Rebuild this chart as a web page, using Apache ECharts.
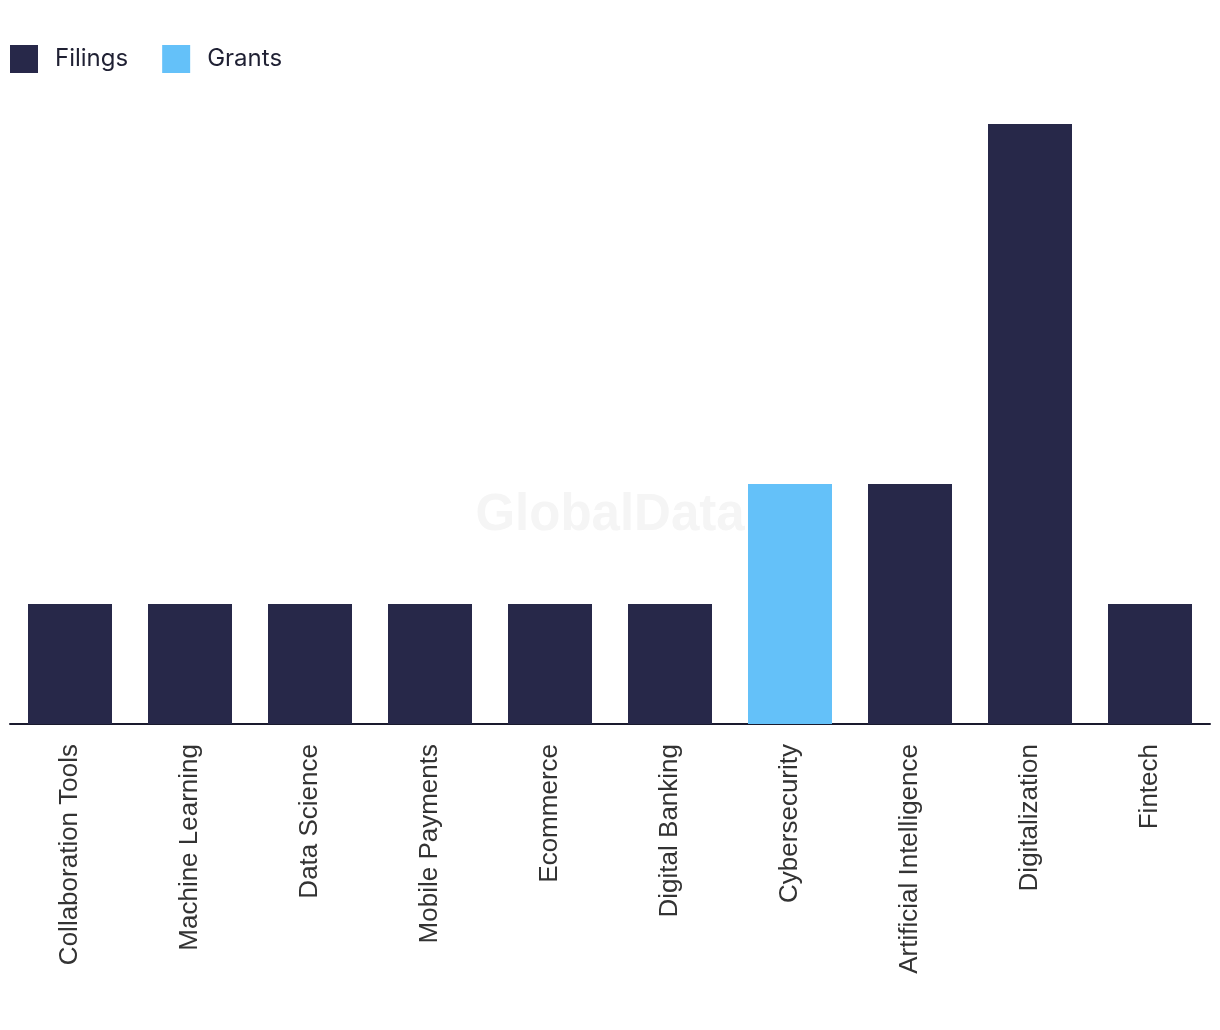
<!DOCTYPE html>
<html>
<head>
<meta charset="utf-8">
<script src="https://cdn.jsdelivr.net/npm/echarts@6/dist/echarts.min.js"></script>
<style>
html,body{margin:0;padding:0;background:#fff;}
#chart{width:1220px;height:1030px;}
</style>
</head>
<body>
<div id="chart"></div>
<script>
const categories = ["Collaboration Tools","Machine Learning","Data Science","Mobile Payments","Ecommerce","Digital Banking","Cybersecurity","Artificial Intelligence","Digitalization","Fintech"];
const filings = [1,1,1,1,1,1,0,2,5,1];
const grants = [0,0,0,0,0,0,2,0,0,0];

const chart = echarts.init(document.getElementById('chart'));
chart.setOption({
  animation: false,
  backgroundColor: '#ffffff',
  graphic: [{
    type: 'text',
    left: 'center',
    top: 490,
    style: {
      text: 'GlobalData',
      fontFamily: 'Liberation Sans',
      fontWeight: 'bold',
      fontSize: 51,
      fill: '#f5f5f5'
    },
    z: 0
  }],
  legend: {
    left: 5,
    top: 40,
    itemWidth: 28,
    itemHeight: 28,
    itemGap: 34,
    icon: 'rect',
    textStyle: {
      fontFamily: 'Inter',
      fontSize: 24,
      color: '#1f2033',
      padding: [0, 0, 0, 12]
    },
    data: ['Filings', 'Grants']
  },
  grid: {
    left: 10,
    right: 10,
    top: 124,
    bottom: 306,
    containLabel: false
  },
  xAxis: {
    type: 'category',
    data: categories,
    axisLine: { show: true, lineStyle: { color: '#1a1a2e', width: 2 } },
    axisTick: { show: false },
    axisLabel: {
      rotate: 90,
      margin: 20,
      fontFamily: 'Liberation Sans',
      fontSize: 26,
      color: '#333333'
    }
  },
  yAxis: {
    type: 'value',
    min: 0,
    max: 5,
    interval: 1,
    show: false,
    splitLine: { show: false }
  },
  series: [
    {
      name: 'Filings',
      type: 'bar',
      stack: 'total',
      barWidth: '70%',
      itemStyle: { color: '#272849' },
      data: filings,
      z: 2
    },
    {
      name: 'Grants',
      type: 'bar',
      stack: 'total',
      barWidth: '70%',
      itemStyle: { color: '#64c1f9' },
      data: grants,
      z: 2
    }
  ]
});
</script>
</body>
</html>
